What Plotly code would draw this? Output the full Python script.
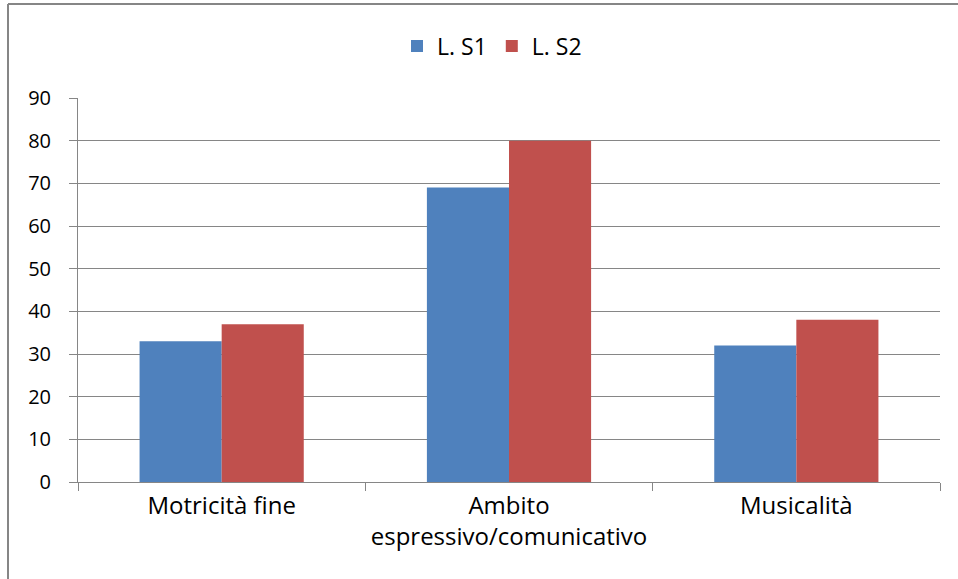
import plotly.graph_objects as go

# Category labels and scores for the two series
categories = ["Motricità fine", "Ambito<br>espressivo/comunicativo", "Musicalità"]
series_names = ["L. S1", "L. S2"]
s1_values = [33, 69, 32]
s2_values = [37, 80, 38]
y_ticks = [0, 10, 20, 30, 40, 50, 60, 70, 80, 90]

W, H = 958, 579
ML, MR, MT, MB = 78, 18, 98, 97
GRID = "#868686"
FAMILY = "Open Sans, sans-serif"
CAT_FONT = dict(family=FAMILY, size=24, color="#000000")
NUM_FONT = dict(family=FAMILY, size=20, color="#000000")
LEG_FONT = dict(family=FAMILY, size=23, color="#000000")

fig = go.Figure()
fig.add_trace(go.Bar(x=categories, y=s1_values, name=series_names[0],
                     marker=dict(color="#4F81BD", line=dict(width=0))))
fig.add_trace(go.Bar(x=categories, y=s2_values, name=series_names[1],
                     marker=dict(color="#C0504D", line=dict(width=0))))

# outer chart frame (top and left edges visible)
pw, ph = W - ML - MR, H - MT - MB
def px_x(x):
    return (x - ML) / pw
def px_y(y):
    return 1 - (y - MT) / ph

fig.add_shape(type="line", xref="paper", yref="paper",
              x0=px_x(8), x1=px_x(990), y0=px_y(4), y1=px_y(4),
              line=dict(color=GRID, width=2))
fig.add_shape(type="line", xref="paper", yref="paper",
              x0=px_x(8), x1=px_x(8), y0=px_y(4), y1=px_y(620),
              line=dict(color=GRID, width=2))

fig.update_layout(
    width=W, height=H,
    margin=dict(l=ML, r=MR, t=MT, b=MB),
    paper_bgcolor="white", plot_bgcolor="white",
    barmode="group", bargap=1.5 / 3.5, bargroupgap=0,
    font=CAT_FONT,
    showlegend=True,
    legend=dict(orientation="h", x=px_x(492), xanchor="center",
                y=px_y(46), yanchor="middle", font=LEG_FONT,
                itemwidth=30, tracegroupgap=0, bgcolor="rgba(0,0,0,0)"),
    xaxis=dict(type="category", showline=True, linecolor=GRID, linewidth=1,
               ticks="outside", tickson="boundaries", ticklen=8,
               tickcolor=GRID, tickwidth=1, showgrid=False,
               tickfont=CAT_FONT, ticklabelstandoff=2, fixedrange=True),
    yaxis=dict(range=[0, 90], tickvals=y_ticks, showline=True, linecolor=GRID,
               linewidth=1, ticks="outside", ticklen=8, tickcolor=GRID,
               tickwidth=1, showgrid=True, gridcolor=GRID, gridwidth=1,
               zeroline=False, tickfont=NUM_FONT, ticklabelstandoff=14,
               fixedrange=True),
)

fig.write_html("out.html")
